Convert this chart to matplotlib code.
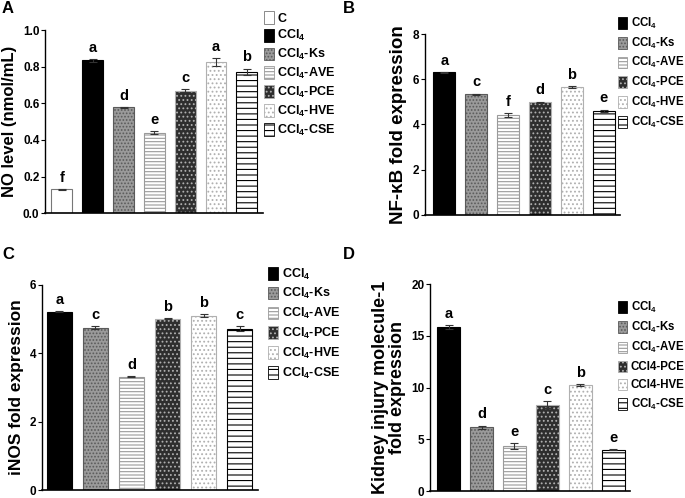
import numpy as np
import matplotlib
matplotlib.use("Agg")
from matplotlib import pyplot as plt
from matplotlib.patches import Patch

plt.rcParams['font.family'] = ['Liberation Sans', 'DejaVu Sans']
plt.rcParams['font.weight'] = 'bold'
plt.rcParams['mathtext.fontset'] = 'custom'
plt.rcParams['mathtext.rm'] = 'Liberation Sans:bold'
plt.rcParams['mathtext.default'] = 'rm'
plt.rcParams['hatch.linewidth'] = 0.8

# -- DATA --
groups_a = ['C', 'CCl$_4$', 'CCl$_4$-Ks', 'CCl$_4$-AVE', 'CCl$_4$-PCE', 'CCl$_4$-HVE', 'CCl$_4$-CSE']
no_level = [0.13, 0.835, 0.578, 0.44, 0.67, 0.825, 0.772]
no_err = [0.003, 0.008, 0.003, 0.01, 0.008, 0.022, 0.018]
no_sig = ['f', 'a', 'd', 'e', 'c', 'a', 'b']

groups = ['CCl$_4$', 'CCl$_4$-Ks', 'CCl$_4$-AVE', 'CCl$_4$-PCE', 'CCl$_4$-HVE', 'CCl$_4$-CSE']
groups_d = ['CCl$_4$', 'CCl$_4$-Ks', 'CCl$_4$-AVE', 'CCl4-PCE', 'CCl4-HVE', 'CCl$_4$-CSE']

nfkb = [6.31, 5.34, 4.41, 4.99, 5.66, 4.61]
nfkb_err = [0.02, 0.03, 0.08, 0.02, 0.03, 0.05]
nfkb_sig = ['a', 'c', 'f', 'd', 'b', 'e']

inos = [5.21, 4.74, 3.31, 5.01, 5.1, 4.72]
inos_err = [0.02, 0.04, 0.02, 0.02, 0.03, 0.06]
inos_sig = ['a', 'c', 'd', 'b', 'b', 'c']

kim1 = [15.85, 6.17, 4.37, 8.33, 10.25, 4.0]
kim1_err = [0.15, 0.15, 0.3, 0.35, 0.08, 0.05]
kim1_sig = ['a', 'd', 'e', 'c', 'b', 'e']

# bar styles: (facecolor, edgecolor, hatch)
STY = {
    'C': ('white', '#777777', None),
    'CCl4': ('black', 'black', None),
    'Ks': ('#9a9a9a', '#5a5a5a', '.....'),
    'AVE': ('white', '#9a9a9a', '-----'),
    'PCE': ('#2e2e2e', '#b0b0b0', '....'),
    'HVE': ('white', '#b0b0b0', '....'),
    'CSE': ('white', 'black', '---'),
}
keys_a = ['C', 'CCl4', 'Ks', 'AVE', 'PCE', 'HVE', 'CSE']
keys = keys_a[1:]


fig = plt.figure(figsize=(6.85, 4.98), dpi=100)


def panel(rect, vals, errs, sig, k, labels, ymax, yticks, ylabel, ylsize, xlim, width,
          leg_xy, leg_space, leg_size, letter, letter_xy):
    ax = fig.add_axes(rect)
    x = np.arange(len(vals))
    for i, kk in enumerate(k):
        fc, ec, h = STY[kk]
        ax.bar(x[i], vals[i], width=width, color=fc, edgecolor=ec, hatch=h, linewidth=0.8)
    ax.errorbar(x, vals, yerr=errs, fmt='none', ecolor='#333333', elinewidth=0.8,
                capsize=3, capthick=0.8)
    for i in range(len(vals)):
        ax.annotate(sig[i], (x[i], vals[i] + errs[i]), xytext=(0, 3), textcoords='offset points',
                    ha='center', va='bottom', fontsize=10.5, fontweight='bold')
    ax.set_ylim(0, ymax)
    ax.set_xlim(*xlim)
    ax.set_yticks(yticks)
    ax.set_xticks([])
    ax.spines['top'].set_visible(False)
    ax.spines['right'].set_visible(False)
    ax.spines['left'].set_linewidth(1.0)
    ax.spines['bottom'].set_linewidth(1.2)
    ax.tick_params(axis='y', labelsize=8.5, length=3, width=0.8, pad=1)
    ax.set_ylabel(ylabel, fontsize=ylsize, fontweight='bold', labelpad=4, linespacing=0.95)

    handles = [Patch(facecolor=STY[kk][0], edgecolor=STY[kk][1], hatch=STY[kk][2], linewidth=0.6)
               for kk in k]
    fig.legend(handles, labels, loc='upper left', bbox_to_anchor=leg_xy,
               bbox_transform=fig.transFigure, frameon=False, fontsize=leg_size,
               handlelength=0.8, handleheight=1.2, handletextpad=0.3,
               labelspacing=leg_space, borderpad=0, borderaxespad=0)
    fig.text(letter_xy[0], letter_xy[1], letter, fontsize=12, fontweight='bold',
             ha='left', va='top')
    return ax


panel([0.0657, 0.572, 0.318, 0.3675], no_level, no_err, no_sig, keys_a, groups_a,
      1.0, [0.0, 0.2, 0.4, 0.6, 0.8, 1.0], 'NO level (nmol/mL)', 12, (-0.55, 6.52), 0.68,
      (0.385, 0.978), 0.3, 9, 'A', (0.003, 0.998))
panel([0.620, 0.5683, 0.285, 0.3634], nfkb, nfkb_err, nfkb_sig, keys, groups,
      8, [0, 2, 4, 6, 8], 'NF-κB fold expression', 13.5, (-0.61, 5.5), 0.7,
      (0.902, 0.968), 0.4, 8.3, 'B', (0.500, 0.998))
panel([0.0613, 0.016, 0.315, 0.4123], inos, inos_err, inos_sig, keys, groups,
      6, [0, 2, 4, 6], 'iNOS fold expression', 12.5, (-0.48, 5.5), 0.69,
      (0.391, 0.465), 0.38, 9, 'C', (0.003, 0.505))
panel([0.628, 0.014, 0.292, 0.4157], kim1, kim1_err, kim1_sig, keys, groups_d,
      20, [0, 5, 10, 15, 20], 'Kidney injury molecule-1\nfold expression', 13, (-0.56, 5.52), 0.7,
      (0.902, 0.398), 0.45, 8.3, 'D', (0.500, 0.505))

fig.savefig('out.png', dpi=100)
